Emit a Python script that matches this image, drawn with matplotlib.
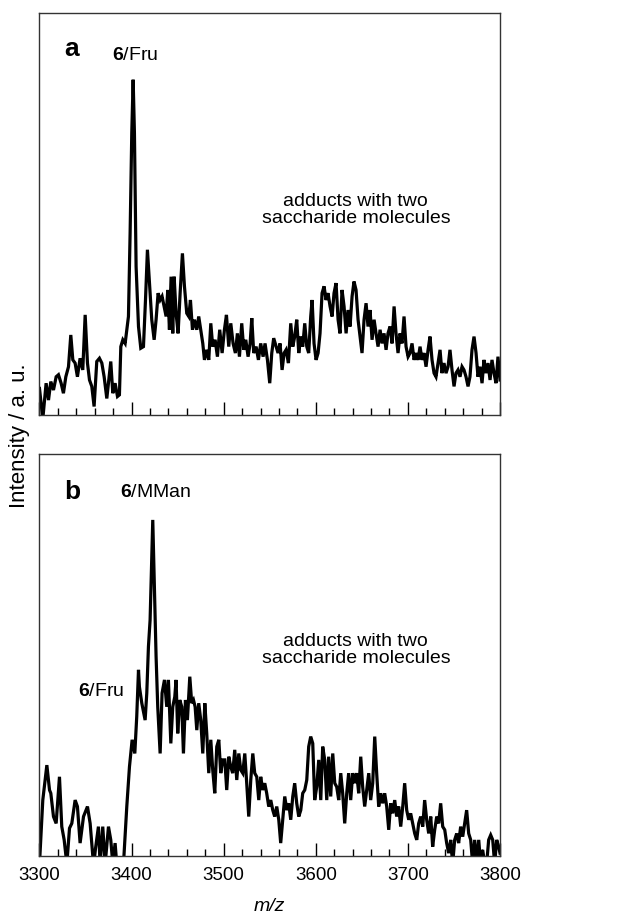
#!/usr/bin/env python3

import matplotlib.pyplot as plt
from matplotlib.ticker import MultipleLocator

plt.rcParams["font.family"] = ["Liberation Sans", "DejaVu Sans"]
plt.rcParams["mathtext.fontset"] = "custom"
plt.rcParams["mathtext.rm"] = "Liberation Sans"
plt.rcParams["mathtext.it"] = "Liberation Sans:italic"
plt.rcParams["mathtext.bf"] = "Liberation Sans:bold"

# Spectrum a (m/z, intensity in arbitrary units, 0-100 = axis height)
mz_a = [3300.0, 3303.6, 3307.2, 3309.8, 3312.3, 3315.2, 3318.1, 3320.6, 3323.5, 3326.0,
        3328.6, 3331.5, 3334.0, 3336.2, 3338.7, 3341.2, 3344.1, 3347.0, 3349.6, 3352.1,
        3354.3, 3356.8, 3359.3, 3362.2, 3365.1, 3367.7, 3370.2, 3373.1, 3375.6, 3377.4,
        3379.6, 3382.1, 3384.7, 3386.8, 3388.3, 3390.5, 3393.0, 3394.8, 3396.6, 3398.4,
        3400.2, 3401.7, 3403.1, 3404.9, 3407.5, 3410.0, 3412.9, 3415.1, 3417.2, 3419.4,
        3421.9, 3424.5, 3426.6, 3428.8, 3431.0, 3433.1, 3435.3, 3437.5, 3439.3, 3441.1,
        3442.9, 3444.7, 3446.2, 3448.3, 3450.5, 3452.7, 3455.2, 3457.4, 3459.9, 3462.1,
        3463.9, 3466.1, 3468.2, 3470.8, 3472.9, 3475.1, 3477.3, 3479.1, 3481.6, 3483.8,
        3486.0, 3488.1, 3490.7, 3493.2, 3495.7, 3498.3, 3500.8, 3503.0, 3505.5, 3507.7,
        3510.2, 3512.7, 3514.9, 3517.1, 3519.6, 3521.8, 3524.0, 3526.5, 3528.7, 3530.5,
        3532.6, 3535.2, 3537.7, 3540.2, 3542.8, 3544.9, 3547.5, 3550.0, 3552.2, 3554.3,
        3556.9, 3559.0, 3561.2, 3563.4, 3565.6, 3567.7, 3570.3, 3572.8, 3575.0, 3577.1,
        3579.3, 3581.5, 3583.7, 3585.8, 3588.0, 3590.2, 3592.3, 3594.5, 3596.0, 3598.1,
        3600.3, 3602.5, 3604.6, 3606.8, 3609.0, 3611.1, 3613.3, 3615.5, 3617.7, 3619.8,
        3622.0, 3624.2, 3626.3, 3628.5, 3630.7, 3632.9, 3635.0, 3637.2, 3639.4, 3641.5,
        3643.7, 3645.9, 3648.1, 3650.2, 3652.4, 3654.6, 3656.7, 3658.9, 3661.1, 3663.3,
        3665.4, 3667.6, 3669.8, 3671.9, 3674.1, 3676.3, 3678.4, 3680.6, 3682.8, 3685.0,
        3687.1, 3689.3, 3691.5, 3693.6, 3695.8, 3698.0, 3700.2, 3702.3, 3704.5, 3706.7,
        3708.8, 3711.0, 3713.2, 3715.3, 3717.5, 3719.7, 3721.9, 3724.0, 3726.2, 3728.4,
        3730.5, 3732.7, 3734.9, 3737.0, 3739.2, 3741.4, 3743.6, 3745.7, 3747.9, 3750.1,
        3752.2, 3754.4, 3756.6, 3758.8, 3760.9, 3763.1, 3765.3, 3767.4, 3769.6, 3771.8,
        3774.0, 3776.1, 3778.3, 3780.5, 3782.6, 3784.8, 3787.0, 3789.2, 3791.3, 3793.5,
        3795.7, 3797.8, 3800.0]
int_a = [6.6, -1.0, 7.9, 3.7, 8.3, 6.2, 9.5, 10.0, 7.9, 5.4,
         9.5, 12.0, 19.9, 13.7, 12.9, 9.5, 14.1, 11.2, 24.9, 12.9,
         8.7, 7.1, 2.1, 13.3, 14.1, 12.9, 9.5, 4.1, 9.5, 13.3,
         5.4, 7.9, 4.6, 5.0, 17.0, 18.7, 17.8, 21.2, 24.5, 45.2,
         70.1, 83.4, 70.1, 36.9, 22.0, 16.6, 17.0, 28.6, 41.1, 32.8,
         23.7, 18.7, 23.7, 30.3, 28.6, 29.5, 27.0, 24.5, 31.1, 21.2,
         34.4, 20.3, 34.4, 25.3, 20.3, 30.3, 40.2, 32.0, 25.3, 24.5,
         28.6, 21.2, 23.7, 21.2, 24.5, 21.2, 17.8, 13.7, 16.2, 13.7,
         22.8, 17.0, 18.7, 14.5, 21.2, 15.4, 21.2, 24.9, 17.0, 22.8,
         17.8, 15.4, 20.3, 14.5, 22.8, 16.2, 18.7, 14.5, 17.8, 24.1,
         15.4, 17.0, 13.7, 17.8, 14.5, 17.8, 13.7, 7.9, 15.4, 19.1,
         17.0, 15.4, 17.8, 11.2, 15.4, 16.2, 12.9, 22.8, 17.0, 19.5,
         23.7, 15.4, 19.5, 17.0, 22.8, 17.0, 15.4, 24.5, 28.6, 17.8,
         13.7, 15.4, 20.3, 30.3, 32.0, 28.6, 30.3, 27.0, 24.5, 30.3,
         32.8, 23.7, 20.3, 31.1, 27.0, 20.3, 26.1, 22.0, 29.5, 33.2,
         31.1, 23.7, 19.5, 15.4, 23.7, 27.8, 22.0, 26.1, 18.7, 23.7,
         20.3, 17.0, 21.2, 17.8, 20.3, 16.2, 20.3, 22.0, 17.8, 27.0,
         20.3, 15.4, 20.3, 17.8, 24.5, 17.0, 14.5, 15.4, 17.8, 13.7,
         15.4, 13.7, 17.0, 13.7, 15.4, 12.0, 16.2, 19.5, 13.7, 10.4,
         9.5, 12.9, 16.2, 10.4, 12.9, 10.4, 12.0, 16.2, 11.2, 7.1,
         10.4, 11.2, 9.5, 12.0, 11.2, 9.5, 7.1, 9.5, 16.2, 19.5,
         15.4, 9.5, 12.0, 7.9, 13.7, 10.4, 12.9, 8.7, 13.7, 10.4,
         7.9, 14.5, 8.7]

# Spectrum b
mz_b = [3300.0, 3303.6, 3308.0, 3310.9, 3312.3, 3315.2, 3318.1, 3321.7, 3324.2, 3326.8,
        3329.7, 3332.6, 3335.1, 3338.7, 3341.2, 3344.1, 3347.8, 3352.1, 3355.0, 3358.6,
        3364.0, 3365.8, 3368.7, 3371.3, 3374.9, 3377.4, 3379.6, 3382.1, 3383.9, 3391.2,
        3394.8, 3397.7, 3400.6, 3403.5, 3405.6, 3407.5, 3408.5, 3411.1, 3414.7, 3416.5,
        3418.3, 3420.1, 3423.0, 3424.8, 3426.6, 3428.4, 3431.0, 3433.1, 3435.7, 3438.2,
        3440.0, 3442.6, 3444.7, 3446.9, 3448.3, 3450.1, 3452.3, 3454.5, 3456.3, 3458.5,
        3460.6, 3463.2, 3465.3, 3467.2, 3469.0, 3470.8, 3472.9, 3475.1, 3477.3, 3479.5,
        3481.6, 3483.8, 3486.0, 3488.1, 3490.3, 3492.5, 3494.7, 3496.8, 3499.0, 3501.2,
        3503.3, 3505.5, 3507.7, 3509.8, 3512.0, 3514.2, 3516.4, 3518.5, 3520.7, 3522.9,
        3525.0, 3527.2, 3529.4, 3531.6, 3533.7, 3535.9, 3538.1, 3540.2, 3542.4, 3544.6,
        3546.7, 3548.9, 3551.1, 3553.3, 3555.4, 3557.6, 3559.8, 3561.9, 3564.1, 3566.3,
        3568.5, 3570.6, 3572.8, 3575.0, 3577.1, 3579.3, 3581.5, 3583.7, 3585.8, 3588.0,
        3590.2, 3592.3, 3594.5, 3596.7, 3598.8, 3601.0, 3603.2, 3605.4, 3607.5, 3609.7,
        3611.9, 3614.0, 3616.2, 3618.4, 3620.6, 3622.7, 3624.9, 3627.1, 3629.2, 3631.4,
        3633.6, 3635.7, 3637.9, 3640.1, 3642.3, 3644.4, 3646.6, 3648.8, 3650.9, 3653.1,
        3655.3, 3657.5, 3659.6, 3661.8, 3664.0, 3666.1, 3668.3, 3670.5, 3672.7, 3674.8,
        3677.0, 3679.2, 3681.3, 3683.5, 3685.7, 3687.8, 3690.0, 3692.2, 3694.4, 3696.5,
        3698.7, 3700.9, 3703.0, 3705.2, 3707.4, 3709.6, 3711.7, 3713.9, 3716.1, 3718.2,
        3720.4, 3722.6, 3724.8, 3726.9, 3729.1, 3731.3, 3733.4, 3735.6, 3737.8, 3740.0,
        3742.1, 3744.3, 3746.5, 3748.6, 3750.8, 3753.0, 3755.1, 3757.3, 3759.5, 3761.7,
        3763.8, 3766.0, 3768.2, 3770.3, 3772.5, 3774.7, 3776.9, 3779.0, 3781.2, 3783.4,
        3785.5, 3787.7, 3789.9, 3792.1, 3794.2, 3796.4, 3798.6, 3800.0]
int_b = [-2.0, 13.9, 22.6, 16.4, 15.6, 9.8, 8.1, 19.7, 7.3, 4.0,
         -2.0, 6.9, 8.1, 13.9, 12.3, 3.2, 9.8, 12.3, 8.1, -2.0,
         7.3, -2.0, 7.3, -2.0, 7.3, 4.0, -2.0, 3.2, -2.0, -2.0,
         12.3, 22.2, 28.9, 25.5, 34.7, 46.3, 42.1, 38.0, 33.8, 40.5,
         52.1, 58.7, 83.6, 66.2, 49.6, 37.1, 25.5, 40.5, 43.8, 37.1,
         43.8, 28.0, 37.1, 39.6, 43.8, 30.5, 38.8, 37.1, 25.5, 38.8,
         33.8, 44.6, 38.0, 38.8, 37.1, 31.3, 38.0, 33.8, 25.5, 38.0,
         30.5, 20.6, 28.9, 21.4, 15.6, 27.2, 28.9, 20.6, 23.9, 23.9,
         16.4, 24.7, 22.2, 20.6, 26.4, 18.9, 25.5, 21.4, 20.6, 25.5,
         18.1, 9.8, 18.9, 25.5, 20.6, 19.7, 13.9, 19.7, 16.4, 18.1,
         15.6, 12.3, 13.9, 11.4, 9.8, 12.3, 9.0, 3.2, 9.0, 14.8,
         11.4, 13.1, 9.0, 14.8, 18.1, 13.1, 9.8, 11.4, 15.6, 16.4,
         18.9, 27.2, 29.7, 28.0, 13.9, 17.2, 23.9, 13.9, 27.2, 23.9,
         13.9, 24.7, 14.8, 25.5, 18.1, 17.2, 13.9, 20.6, 15.6, 8.1,
         15.6, 20.6, 13.9, 20.6, 18.1, 20.6, 15.6, 24.7, 17.2, 12.3,
         16.4, 20.6, 13.9, 18.1, 29.7, 20.6, 12.3, 15.6, 13.1, 15.6,
         12.3, 6.5, 13.1, 10.6, 13.9, 9.8, 12.3, 7.3, 12.3, 18.1,
         11.4, 9.0, 10.6, 8.1, 5.6, 4.0, 8.1, 9.8, 7.3, 13.9,
         9.0, 5.6, 9.8, 2.3, 6.5, 9.8, 8.1, 13.1, 7.3, 6.5,
         3.2, 0.7, 4.0, -2.0, 4.0, 5.6, 3.2, 7.3, 4.8, 8.1,
         11.4, 5.6, 4.0, -2.0, 4.0, -2.0, 4.0, -2.0, 1.5, -2.0,
         -2.0, 4.0, 5.2, 4.0, -2.0, 4.0, 2.3, 0.7]

adduct_label = "adducts with two\nsaccharide molecules"

fig = plt.figure(figsize=(6.43, 9.14), dpi=100)
ax_a = fig.add_axes([0.0614, 0.5460, 0.7162, 0.4398])
ax_b = fig.add_axes([0.0614, 0.0635, 0.7162, 0.4398])

for ax, mz, inten in [(ax_a, mz_a, int_a), (ax_b, mz_b, int_b)]:
    ax.plot(mz, inten, color="black", lw=2.3, solid_joinstyle="miter")
    ax.set_xlim(3300, 3800)
    ax.set_ylim(0, 100)
    ax.set_yticks([])
    ax.xaxis.set_major_locator(MultipleLocator(100))
    ax.xaxis.set_minor_locator(MultipleLocator(20))
    ax.tick_params(axis="x", which="major", direction="in", length=9.5,
                   width=1.0, labelsize=13.5, pad=8, top=False)
    ax.tick_params(axis="x", which="minor", direction="in", length=5,
                   width=1.0, top=False)
    for s in ax.spines.values():
        s.set_linewidth(1.0)
        s.set_color("#333333")

ax_a.tick_params(axis="x", which="both", labelbottom=False)

# Panel a annotations
ax_a.text(3335, 91, "a", fontsize=19, fontweight="bold", ha="center", va="center")
ax_a.text(3404, 89.3, r"$\mathbf{6}$/Fru", fontsize=14, ha="center", va="center")
ax_a.text(3643.5, 51, adduct_label, fontsize=14, ha="center", va="center",
          linespacing=1.05)

# Panel b annotations
ax_b.text(3336, 90.5, "b", fontsize=19, fontweight="bold", ha="center", va="center")
ax_b.text(3426.5, 90.3, r"$\mathbf{6}$/MMan", fontsize=14, ha="center", va="center")
ax_b.text(3366.4, 40.8, r"$\mathbf{6}$/Fru", fontsize=14, ha="center", va="center")
ax_b.text(3643.5, 51.2, adduct_label, fontsize=14, ha="center", va="center",
          linespacing=1.05)

ax_b.set_xlabel("m/z", fontsize=14, style="italic", labelpad=10)
fig.text(20 / 643, 1 - 436 / 914, "Intensity / a. u.", rotation=90,
         fontsize=16, ha="center", va="center")

fig.savefig("out.png", dpi=100)
